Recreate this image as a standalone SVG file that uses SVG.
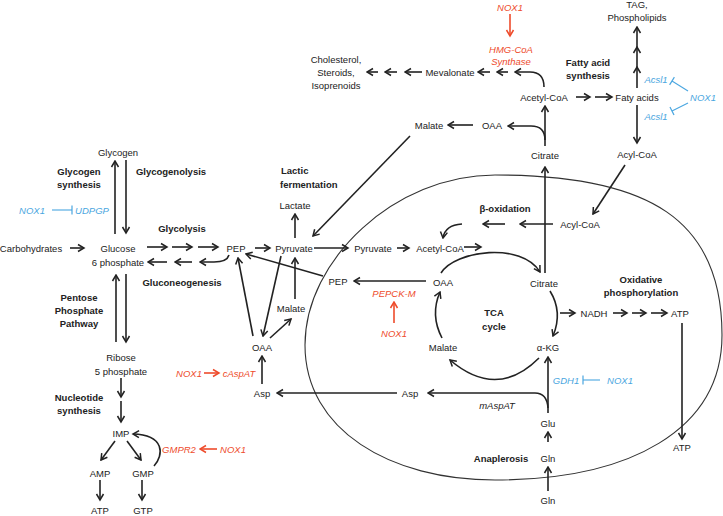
<svg xmlns="http://www.w3.org/2000/svg" width="723" height="516" viewBox="0 0 723 516">
<style>
.t{font-family:"Liberation Sans",Arial,sans-serif;font-size:9.5px;fill:#222;text-anchor:middle;dominant-baseline:central}
.s{text-anchor:start}
.b{font-weight:bold}
.r{fill:#ee4b2b;font-style:italic}
.u{fill:#4aa6e0;font-style:italic}
.l{fill:none;stroke:#222;stroke-width:1.6;marker-end:url(#ah)}
.lr{fill:none;stroke:#ee4b2b;stroke-width:1.6;marker-end:url(#ahr)}
.lt{fill:none;stroke:#4aa6e0;stroke-width:1.1;marker-end:url(#tb)}
.m{fill:none;stroke:#333;stroke-width:1.1}
</style>
<defs>
<marker id="ah" viewBox="0 0 10 10" refX="8.5" refY="5" markerWidth="10" markerHeight="10" markerUnits="userSpaceOnUse" orient="auto"><path d="M2.5,1.5 L8.5,5 L2.5,8.5" fill="none" stroke="#222" stroke-width="1.5"/></marker>
<marker id="ahr" viewBox="0 0 10 10" refX="8.5" refY="5" markerWidth="10" markerHeight="10" markerUnits="userSpaceOnUse" orient="auto"><path d="M2.5,1.5 L8.5,5 L2.5,8.5" fill="none" stroke="#ee4b2b" stroke-width="1.5"/></marker>
<marker id="tb" viewBox="0 0 10 10" refX="5" refY="5" markerWidth="10" markerHeight="10" markerUnits="userSpaceOnUse" orient="auto"><path d="M5,0.5 L5,9.5" stroke="#4aa6e0" stroke-width="1.2"/></marker>
</defs>
<rect width="723" height="516" fill="#fff"/>
<g id="mitochondrion"><path class="m" d="M305 345 C305 260 395 175 495 175 C650 175 722 220 722 335 C722 430 630 480 495 480 C390 480 305 430 305 345 Z"/></g>
<g id="connectors">
<path class="lr" d="M510 14 L510 36"/>
<path class="l" d="M378 72 L367 72"/>
<path class="l" d="M397 72 L385 72"/>
<path class="l" d="M422 72 L405 72"/>
<path class="l" d="M490 72 L478 72"/>
<path class="l" d="M508 72 L497 72"/>
<path class="l" d="M544 87 Q544 72 530 72 L515 72"/>
<path class="l" d="M576 97 L590 97"/>
<path class="l" d="M595 97 L612 97"/>
<path class="l" d="M637 88 L637 67"/>
<path class="l" d="M637 67 L637 47"/>
<path class="l" d="M637 47 L637 27"/>
<path class="l" d="M637 105 L637 143"/>
<path class="lt" d="M688 91 L672 81"/>
<path class="lt" d="M688 103 L672 111"/>
<path class="l" d="M545 146 L545 106"/>
<path class="l" d="M545 140 Q545 126 531 126 L508 126"/>
<path class="l" d="M473 125 L448 125"/>
<path class="l" d="M410 136 L313 236"/>
<path class="l" d="M625 165 L593 214"/>
<path class="l" d="M545 273 L545 167"/>
<path class="l" d="M115 234 L115 161"/>
<path class="l" d="M126 160 L126 233"/>
<path class="lt" d="M52 210 L72 210"/>
<path class="l" d="M70 248 L84 248"/>
<path class="l" d="M147 247 L167 247"/>
<path class="l" d="M172 247 L192 247"/>
<path class="l" d="M198 247 L218 247"/>
<path class="l" d="M167 262 L148 262"/>
<path class="l" d="M192 262 L175 262"/>
<path class="l" d="M229 255 Q227 262 214 262 L200 262"/>
<path class="l" d="M255 248 L270 248"/>
<path class="l" d="M295 238 L295 214"/>
<path class="l" d="M116 342 L116 275"/>
<path class="l" d="M126 274 L126 342"/>
<path class="l" d="M121 378 L121 397"/>
<path class="l" d="M121 401 L121 422"/>
<path class="l" d="M115 441 L101 460"/>
<path class="l" d="M127 441 L141 460"/>
<path class="l" d="M154 466 C164 455 165 435 133 434"/>
<path class="l" d="M100 480 L100 500"/>
<path class="l" d="M142 480 L142 500"/>
<path class="lr" d="M217 449 L200 449"/>
<path class="lr" d="M204 373 L219 373"/>
<path class="l" d="M314 248 L348 248"/>
<path class="l" d="M323 276 L246 254"/>
<path class="l" d="M281 256 L263 336"/>
<path class="l" d="M253 336 L238 258"/>
<path class="l" d="M270 338 L291 319"/>
<path class="l" d="M295 299 L295 258"/>
<path class="l" d="M262 384 L262 356"/>
<path class="l" d="M397 393 L277 393"/>
<path class="l" d="M397 248 L409 248"/>
<path class="l" d="M464 247 L481 247"/>
<path class="l" d="M553 224 L520 224"/>
<path class="l" d="M505 224 L483 224"/>
<path class="l" d="M462 224 Q445 225 443 238"/>
<path class="l" d="M441 273 C455 250 522 242 540 272"/>
<path class="l" d="M550 291 Q563 312 553 336"/>
<path class="l" d="M539 358 Q497 400 450 360"/>
<path class="l" d="M442 338 Q430 315 440 292"/>
<path class="l" d="M426 281 L354 281"/>
<path class="lr" d="M394 323 L394 302"/>
<path class="l" d="M560 313 L575 313"/>
<path class="l" d="M613 313 L627 313"/>
<path class="l" d="M632 313 L646 313"/>
<path class="l" d="M651 313 L667 313"/>
<path class="l" d="M682 323 L682 439"/>
<path class="lt" d="M600 380 L583 380"/>
<path class="l" d="M548 413 L548 357"/>
<path class="l" d="M548 408 Q547 393 535 393 L428 393"/>
<path class="l" d="M548 442 L548 432"/>
<path class="l" d="M548 491 L548 467"/>
</g>
<g id="nox1-hmg"><text class="t r" x="510" y="7">NOX1</text></g>
<g id="hmg-coa-synthase"><text class="t r" x="511" y="49">HMG-CoA</text><text class="t r" x="511" y="61">Synthase</text></g>
<g id="tag"><text class="t" x="637" y="4">TAG,</text><text class="t" x="637" y="17">Phospholipids</text></g>
<g id="cholesterol"><text class="t" x="336" y="59">Cholesterol,</text><text class="t" x="336" y="72">Steroids,</text><text class="t" x="336" y="85">Isoprenoids</text></g>
<g id="mevalonate"><text class="t" x="450" y="72">Mevalonate</text></g>
<g id="fas-label"><text class="t b" x="588" y="62">Fatty acid</text><text class="t b" x="588" y="75">synthesis</text></g>
<g id="acetylcoa-cyt"><text class="t" x="544" y="97">Acetyl-CoA</text></g>
<g id="fatty-acids"><text class="t" x="637" y="97">Faty acids</text></g>
<g id="acsl1-a"><text class="t u" x="656" y="79">Acsl1</text></g>
<g id="acsl1-b"><text class="t u" x="656" y="116">Acsl1</text></g>
<g id="nox1-acsl"><text class="t u" x="703" y="97">NOX1</text></g>
<g id="malate-cyt2"><text class="t" x="429" y="125">Malate</text></g>
<g id="oaa-cyt2"><text class="t" x="492" y="125">OAA</text></g>
<g id="citrate-cyt"><text class="t" x="545" y="155">Citrate</text></g>
<g id="acylcoa-cyt"><text class="t" x="637" y="154">Acyl-CoA</text></g>
<g id="glycogen"><text class="t" x="118" y="152">Glycogen</text></g>
<g id="glycogen-synthesis"><text class="t b" x="79" y="171">Glycogen</text><text class="t b" x="79" y="184">synthesis</text></g>
<g id="glycogenolysis"><text class="t b" x="171" y="171">Glycogenolysis</text></g>
<g id="nox1-udpgp"><text class="t u" x="32" y="210">NOX1</text></g>
<g id="udpgp"><text class="t u" x="92" y="210">UDPGP</text></g>
<g id="carbohydrates"><text class="t" x="31" y="248">Carbohydrates</text></g>
<g id="g6p"><text class="t" x="118" y="248">Glucose</text><text class="t" x="118" y="262">6 phosphate</text></g>
<g id="glycolysis"><text class="t b" x="182" y="228">Glycolysis</text></g>
<g id="gluconeogenesis"><text class="t b" x="182" y="282">Gluconeogenesis</text></g>
<g id="pep-cyt"><text class="t" x="236" y="248">PEP</text></g>
<g id="pyruvate-cyt"><text class="t" x="294" y="248">Pyruvate</text></g>
<g id="lactate"><text class="t" x="295" y="205">Lactate</text></g>
<g id="lactic"><text class="t b s" x="281" y="170">Lactic</text><text class="t b s" x="280" y="184">fermentation</text></g>
<g id="ppp"><text class="t b" x="79" y="297">Pentose</text><text class="t b" x="79" y="310">Phosphate</text><text class="t b" x="79" y="323">Pathway</text></g>
<g id="malate-cyt"><text class="t" x="291" y="308">Malate</text></g>
<g id="oaa-cyt"><text class="t" x="262" y="347">OAA</text></g>
<g id="asp-cyt"><text class="t" x="262" y="393">Asp</text></g>
<g id="nox1-caspat"><text class="t r" x="189" y="373">NOX1</text></g>
<g id="caspat"><text class="t r" x="239" y="373">cAspAT</text></g>
<g id="r5p"><text class="t" x="121" y="357">Ribose</text><text class="t" x="121" y="371">5 phosphate</text></g>
<g id="nucleotide"><text class="t b" x="79" y="397">Nucleotide</text><text class="t b" x="79" y="410">synthesis</text></g>
<g id="imp"><text class="t" x="121" y="433">IMP</text></g>
<g id="amp"><text class="t" x="100" y="473">AMP</text></g>
<g id="gmp"><text class="t" x="143" y="473">GMP</text></g>
<g id="atp-n"><text class="t" x="100" y="510">ATP</text></g>
<g id="gtp"><text class="t" x="143" y="510">GTP</text></g>
<g id="gmpr2"><text class="t r" x="179" y="449">GMPR2</text></g>
<g id="nox1-gmpr2"><text class="t r" x="233" y="449">NOX1</text></g>
<g id="pyruvate-mit"><text class="t" x="373" y="248">Pyruvate</text></g>
<g id="acetylcoa-mit"><text class="t" x="440" y="248">Acetyl-CoA</text></g>
<g id="pep-mit"><text class="t" x="338" y="281">PEP</text></g>
<g id="oaa-mit"><text class="t" x="443" y="282">OAA</text></g>
<g id="citrate-mit"><text class="t" x="544" y="283">Citrate</text></g>
<g id="pepck-m"><text class="t r" x="394" y="293">PEPCK-M</text></g>
<g id="nox1-pepck"><text class="t r" x="394" y="333">NOX1</text></g>
<g id="tca"><text class="t b" x="494" y="312">TCA</text><text class="t b" x="494" y="326">cycle</text></g>
<g id="malate-mit"><text class="t" x="443" y="347">Malate</text></g>
<g id="akg"><text class="t" x="548" y="347">α-KG</text></g>
<g id="nadh"><text class="t" x="594" y="313">NADH</text></g>
<g id="atp-ox"><text class="t" x="680" y="313">ATP</text></g>
<g id="oxphos"><text class="t b" x="641" y="279">Oxidative</text><text class="t b" x="641" y="292">phosphorylation</text></g>
<g id="acylcoa-mit"><text class="t" x="580" y="224">Acyl-CoA</text></g>
<g id="beta-ox"><text class="t b" x="505" y="208">β-oxidation</text></g>
<g id="gdh1"><text class="t u" x="566" y="380">GDH1</text></g>
<g id="nox1-gdh1"><text class="t u" x="620" y="380">NOX1</text></g>
<g id="asp-mit"><text class="t" x="410" y="393">Asp</text></g>
<g id="maspat"><text class="t" style="font-style:italic" x="497" y="405">mAspAT</text></g>
<g id="glu"><text class="t" x="548" y="423">Glu</text></g>
<g id="gln-mit"><text class="t" x="548" y="458">Gln</text></g>
<g id="anaplerosis"><text class="t b" x="501" y="458">Anaplerosis</text></g>
<g id="gln-cyt"><text class="t" x="548" y="500">Gln</text></g>
<g id="atp-out"><text class="t" x="682" y="447">ATP</text></g>
</svg>
